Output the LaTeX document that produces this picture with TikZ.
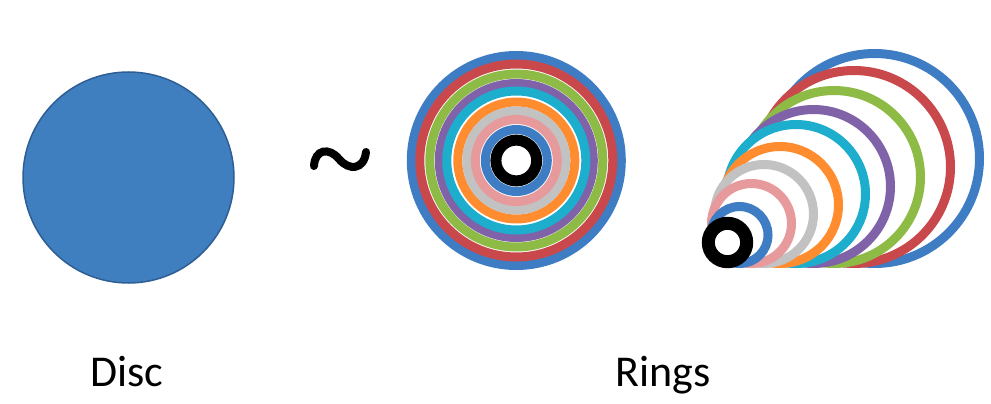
\documentclass[tikz,border=0pt]{standalone}
\usepackage{fontspec}
\setmainfont{Carlito}
\definecolor{rblue}{HTML}{3E7DC3}
\definecolor{rred}{HTML}{C9484B}
\definecolor{rgreen}{HTML}{8DBB45}
\definecolor{rpurple}{HTML}{8062A8}
\definecolor{rcyan}{HTML}{1CAECC}
\definecolor{rorange}{HTML}{FF8C2E}
\definecolor{rgray}{HTML}{C2C2C2}
\definecolor{rpink}{HTML}{E79A9B}
\definecolor{discfill}{HTML}{3F7FC0}
\definecolor{discedge}{HTML}{2E5E94}
\tikzset{
  ringline/.style={line width=9pt},
  label/.style={font=\fontsize{44}{50}\selectfont, anchor=base, inner sep=0pt}
}
\begin{document}
\begin{tikzpicture}[x=1pt,y=-1pt]
\useasboundingbox (0,0) rectangle (991,404);
% disc
\draw[fill=discfill, draw=discedge, line width=1.5pt] (128.5,177.5) circle[radius=105.5];
% tilde
\draw[line width=8pt, line cap=round] (314,166) .. controls (315,149) and (329,147) .. (339,159)
  .. controls (349,171) and (364,170) .. (366,152);
% concentric rings
\coordinate (c) at (516.3,160.5);
\foreach \r/\col in {109.5/rblue,101/rred,91/rgreen,81.5/rpurple,74/rcyan,63/rorange,54/rgray,45.5/rpink,35.5/rblue}{
  \draw[ringline, draw=\col] (c) circle[radius=\r-4.5];
}
\draw[line width=11pt, draw=black] (c) circle[radius=20.4];
% tangent rings
\foreach \x/\r/\col in {874.5/109.5/rblue,854/101/rred,834/91/rgreen,813.5/81.5/rpurple,796/74/rcyan,780/63/rorange,764/54/rgray,751.5/44.5/rpink,739.5/33/rblue}{
  \draw[ringline, draw=\col, fill=white] (\x,268-\r) circle[radius=\r-4.5];
}
\draw[line width=13pt, draw=black, fill=white] (727.5,242.5) circle[radius=19.2];
% labels
\node[label] (disc) at (126.5,386.7) {Disc};
\node[label] (rings) at (663,386.7) {Rings};
\end{tikzpicture}
\end{document}
